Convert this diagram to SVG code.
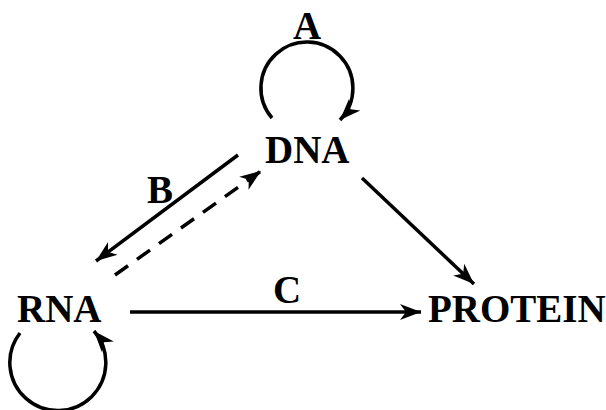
<svg xmlns="http://www.w3.org/2000/svg" width="606" height="410" viewBox="0 0 606 410">
<defs>
<marker id="ah" markerUnits="userSpaceOnUse" viewBox="-22 -10 24 20" refX="0" refY="0" markerWidth="24" markerHeight="20" orient="auto">
<path d="M0,0 L-21,-8 L-15,0 L-21,8 Z" fill="#000"/>
</marker>
<style>
.t{font-family:"Liberation Serif","Times New Roman",serif;font-weight:bold;font-size:39px;fill:#000}
.c{fill:none;stroke:#000;stroke-width:3.5}
.d{stroke-dasharray:16 11}
</style>
</defs>
<rect width="606" height="410" fill="#fff"/>
<g id="connectors">
<path id="loopA" class="c" d="M272,118 A46,46 0 1 1 340,120" marker-end="url(#ah)"/>
<path id="loopRNA" class="c" d="M20,333 A48,48 0 1 0 94,331" marker-end="url(#ah)"/>
<path id="dna-rna" class="c" d="M238,155 L96,261" marker-end="url(#ah)"/>
<path id="rna-dna" class="c d" d="M115,275 L261,171" marker-end="url(#ah)"/>
<path id="dna-protein" class="c" d="M362,178 L474,284" marker-end="url(#ah)"/>
<path id="rna-protein" class="c" d="M130,312 L421,312" marker-end="url(#ah)"/>
</g>
<g id="labels">
<text class="t" x="293" y="39">A</text>
<text class="t" x="147" y="203">B</text>
<text class="t" x="273" y="303">C</text>
</g>
<g id="DNA"><text class="t" x="265" y="163">DNA</text></g>
<g id="RNA"><text class="t" x="17" y="322">RNA</text></g>
<g id="PROTEIN"><text class="t" x="428" y="322">PROTEIN</text></g>
</svg>
